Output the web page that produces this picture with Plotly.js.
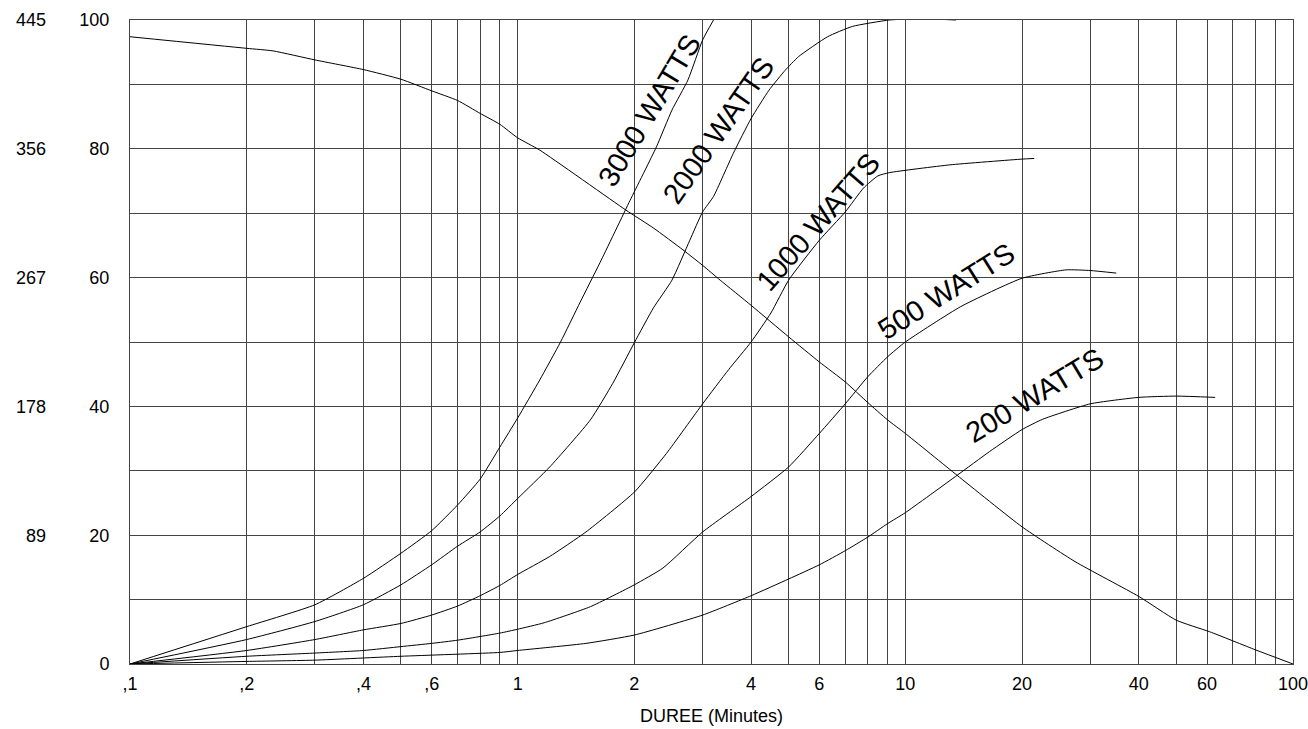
<!DOCTYPE html>
<html>
<head>
<meta charset="utf-8">
<script src="https://cdn.plot.ly/plotly-3.0.1.min.js"></script>
<style>html,body{margin:0;padding:0;background:#fff;}#chart{width:1308px;height:729px;}</style>
</head>
<body>
<div id="chart"></div>
<script>
// ---- data ----
var declineX = [0.1, 0.2, 0.234, 0.3, 0.4, 0.5, 0.6, 0.7, 0.8, 0.9, 1.0, 1.14, 1.9, 2.24, 2.67, 3.0, 3.33, 4, 5, 6, 7, 8, 9, 10, 13.6, 20, 27.4, 40, 50, 61, 80, 100];
var declineY = [97.4, 95.6, 95.2, 93.8, 92.3, 90.8, 89.0, 87.5, 85.5, 83.8, 81.7, 79.8, 70.5, 67.7, 64.3, 61.9, 59.6, 55.7, 50.8, 46.9, 43.8, 40.6, 37.9, 35.8, 29.3, 21.3, 15.9, 10.5, 6.8, 5.0, 2.2, 0];

var w200X = [0.1, 0.2, 0.3, 0.5, 0.9, 1.0, 1.5, 2, 3, 4, 5, 6, 7, 8, 9, 10, 13.6, 16.5, 20, 22.6, 30, 40, 50, 63];
var w200Y = [0, 0.4, 0.6, 1.2, 1.8, 2.1, 3.2, 4.5, 7.6, 10.6, 13.2, 15.4, 17.6, 19.7, 21.8, 23.5, 29.3, 33, 36.4, 38, 40.4, 41.4, 41.6, 41.4];

var w500X = [0.1, 0.2, 0.3, 0.4, 0.5, 0.6, 0.7, 0.9, 1.0, 1.17, 1.54, 2.0, 2.37, 3.0, 4.0, 5, 6, 7, 8, 9, 10, 13.9, 20, 26, 30, 35];
var w500Y = [0, 1.2, 1.7, 2.1, 2.7, 3.2, 3.7, 4.8, 5.4, 6.4, 8.9, 12.3, 14.9, 20.5, 26, 30.6, 35.8, 40.4, 44.6, 47.7, 50, 55.5, 59.9, 61.2, 61.1, 60.7];

var w1000X = [0.1, 0.2, 0.3, 0.4, 0.5, 0.6, 0.7, 0.8, 0.9, 1.0, 1.21, 1.5, 2.0, 2.42, 3, 3.5, 4, 4.5, 5, 6, 7, 7.8, 8.5, 9.1, 13, 20, 21.5];
var w1000Y = [0, 2.1, 3.8, 5.3, 6.3, 7.6, 9.0, 10.6, 12.2, 13.9, 16.7, 20.5, 26.7, 32.7, 40.4, 45.7, 50, 54.5, 59.6, 65.8, 70.2, 73.9, 75.8, 76.3, 77.5, 78.4, 78.5];

var w2000X = [0.1, 0.2, 0.3, 0.4, 0.5, 0.6, 0.7, 0.8, 0.9, 1.0, 1.21, 1.54, 1.76, 2.0, 2.24, 2.5, 2.78, 3.0, 3.2, 3.6, 4.0, 4.45, 4.9, 5.3, 6.3, 7.3, 9.1, 11, 13.5];
var w2000Y = [0, 3.8, 6.6, 9.2, 12.3, 15.4, 18.3, 20.5, 23.0, 25.7, 30.6, 37.9, 43.6, 49.9, 55.3, 59.6, 65.8, 70.2, 72.6, 79.3, 84.7, 89.1, 92.2, 94.3, 97.4, 99.0, 100, 100.2, 100];

var w3000X = [0.1, 0.2, 0.3, 0.4, 0.5, 0.6, 0.7, 0.8, 0.9, 1.0, 1.14, 1.29, 1.45, 1.63, 1.95, 2.28, 2.5, 2.75, 3.0, 3.2];
var w3000Y = [0, 5.8, 9.2, 13.3, 17.2, 20.7, 24.7, 28.7, 33.7, 38.2, 44.1, 50.0, 56.2, 62.3, 72.0, 80.3, 86.0, 90.7, 96.9, 100];

var curveLabels = ['3000 WATTS', '2000 WATTS', '1000 WATTS', '500 WATTS', '200 WATTS'];

var xTickVals = [0.1, 0.2, 0.4, 0.6, 1, 2, 4, 6, 10, 20, 40, 60, 100];
var xTickText = [',1', ',2', ',4', ',6', '1', '2', '4', '6', '10', '20', '40', '60', '100'];
var xGridVals = [0.1,0.2,0.3,0.4,0.5,0.6,0.7,0.8,0.9,1,2,3,4,5,6,7,8,9,10,20,30,40,50,60,70,80,90,100];
var yTickVals = [0, 20, 40, 60, 80, 100];
var y2TickVals = [89, 178, 267, 356, 445];
var xTitle = 'DUREE (Minutes)';

// ---- styles / positions ----
var labelPosX = [2.19, 3.30, 5.96, 12.8, 21.6];
var labelPosY = [86.0, 82.9, 68.6, 57.9, 41.8];
var labelAngle = [-59, -55, -49, -32, -31];

var FONT = 'Liberation Sans, Arial, sans-serif';
var GRID = '#444';
var lineStyle = {color: '#000', width: 1, shape: 'spline', smoothing: 0.5};

function curve(x, y) {
  return {x: x, y: y, type: 'scatter', mode: 'lines', line: lineStyle,
          hoverinfo: 'skip', showlegend: false, xaxis: 'x', yaxis: 'y'};
}

var traces = [
  curve(declineX, declineY),
  curve(w200X, w200Y),
  curve(w500X, w500Y),
  curve(w1000X, w1000Y),
  curve(w2000X, w2000Y),
  curve(w3000X, w3000Y),
  {x: y2TickVals.map(function(){return 0.1;}), y: y2TickVals, type: 'scatter', mode: 'none',
   hoverinfo: 'skip', showlegend: false, xaxis: 'x', yaxis: 'y2'}
];

var annotations = curveLabels.map(function(t, i) {
  return {text: t, x: Math.log10(labelPosX[i]), y: labelPosY[i], xref: 'x', yref: 'y',
          showarrow: false, textangle: labelAngle[i],
          font: {family: FONT, size: 29, color: '#000'}};
});

var W = 1308;
var layout = {
  width: W, height: 729,
  margin: {l: 0, r: 15, t: 20, b: 65},
  paper_bgcolor: '#fff', plot_bgcolor: '#fff',
  showlegend: false,
  font: {family: FONT, size: 18, color: '#000'},
  xaxis: {
    type: 'log', range: [-1, 2], domain: [130 / (W - 15), 1],
    tickmode: 'array', tickvals: xTickVals, ticktext: xTickText,
    ticks: '', ticklabelstandoff: 3, ticklabeloverflow: 'allow',
    showgrid: true, gridcolor: GRID, gridwidth: 1,
    minor: {tickmode: 'array', tickvals: xGridVals, showgrid: true, gridcolor: GRID, gridwidth: 1, ticks: ''},
    showline: true, linecolor: GRID, linewidth: 1, mirror: true,
    zeroline: false,
    tickfont: {family: FONT, size: 18, color: '#000'},
    title: {text: xTitle, standoff: 16, font: {family: FONT, size: 18, color: '#000'}}
  },
  yaxis: {
    range: [0, 100], tickmode: 'array', tickvals: yTickVals,
    ticks: '', ticklabelstandoff: 16,
    showgrid: true, gridcolor: GRID, gridwidth: 1,
    minor: {dtick: 10, showgrid: true, gridcolor: GRID, gridwidth: 1, ticks: ''},
    showline: true, linecolor: GRID, linewidth: 1, mirror: true,
    zeroline: false,
    tickfont: {family: FONT, size: 18, color: '#000'}
  },
  yaxis2: {
    range: [0, 445], overlaying: 'y', anchor: 'free', position: 46 / (W - 15), side: 'left',
    tickmode: 'array', tickvals: y2TickVals,
    ticks: '', showgrid: false, zeroline: false, showline: false,
    tickfont: {family: FONT, size: 18, color: '#000'}
  },
  annotations: annotations
};

Plotly.newPlot('chart', traces, layout, {staticPlot: true, displayModeBar: false});
</script>
</body>
</html>
